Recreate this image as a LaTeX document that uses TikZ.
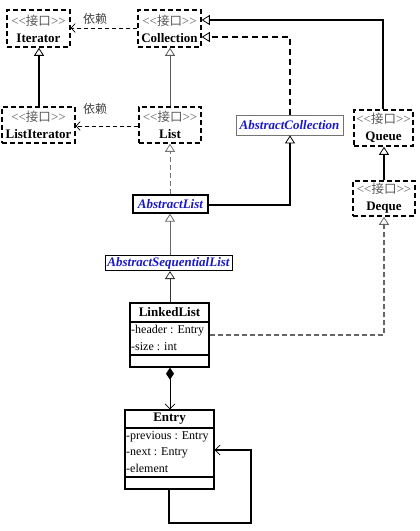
\documentclass[tikz,border=0pt]{standalone}
\usepackage{fontspec}
\setmainfont{Liberation Serif}
\newfontfamily\cjk{Noto Sans CJK SC}
\usetikzlibrary{arrows.meta}
\definecolor{umlblue}{RGB}{25,25,200}
\newcommand\ster{{\mdseries\color{black!65}\fontsize{13}{17}\selectfont<\kern0pt<{\cjk\fontsize{12.5}{17}\selectfont 接口}>\kern0pt>}}
\begin{document}
\begin{tikzpicture}[x=1pt,y=-1pt,
  iface/.style={draw, line width=1.5pt, dash pattern=on 5pt off 3pt, align=center, inner sep=0pt, font=\fontsize{13}{17}\selectfont\bfseries},
  absbox/.style={draw, align=center, inner sep=0pt, text=umlblue, font=\fontsize{13}{15}\selectfont\bfseries\itshape},
  clsbox/.style={draw, line width=1.3pt, inner sep=0pt},
  title/.style={font=\fontsize{13}{15}\selectfont\bfseries, inner sep=0pt},
  attr/.style={font=\fontsize{12}{14}\selectfont, anchor=west, inner sep=0pt},
  lbl/.style={font=\cjk\fontsize{12}{14}\selectfont, text=black!75, inner sep=0pt},
  inh/.style={-{Triangle[open,length=8pt,width=10pt,line width=0.8pt]}},
  dep/.style={dashed, dash pattern=on 4pt off 3pt, line width=0.8pt, -{Straight Barb[length=4pt,width=9pt,line width=0.7pt]}},
  sep/.style={line width=1.3pt}
]
\useasboundingbox (0,0) rectangle (420,531);

% interfaces
\node[iface, minimum width=63pt, minimum height=37pt] (Iterator) at (38.5,28.5) {\ster\\Iterator};
\node[iface, minimum width=63pt, minimum height=37pt] (Collection) at (169.5,28.5) {\ster\\Collection};
\node[iface, minimum width=73pt, minimum height=36pt] (ListIterator) at (38.5,125) {\ster\\ListIterator};
\node[iface, minimum width=62pt, minimum height=36pt] (List) at (170,125) {\ster\\List};
\node[iface, minimum width=59pt, minimum height=36pt] (Queue) at (383.5,128) {\ster\\Queue};
\node[iface, minimum width=62pt, minimum height=35pt] (Deque) at (384,198.5) {\ster\\Deque};

% abstract classes
\node[absbox, draw=black!55, line width=0.8pt, minimum width=107pt, minimum height=20pt] (AbsColl) at (289.5,125) {AbstractCollection};
\node[absbox, line width=1.2pt, minimum width=75pt, minimum height=18pt] (AbsList) at (170.5,204) {AbstractList};
\node[absbox, line width=1pt, minimum width=127pt, minimum height=15pt] (AbsSeq) at (168.5,263) {AbstractSequentialList};

% LinkedList
\node[clsbox, minimum width=79pt, minimum height=64pt] (LL) at (169.5,335) {};
\draw[sep] (LL.west |- 0,322) -- (LL.east |- 0,322);
\draw[sep] (LL.west |- 0,355) -- (LL.east |- 0,355);
\node[title] (LLt) at (169.5,312.5) {LinkedList};
\node[attr] (LLa) at (131,331) {-header : Entry};
\node[attr] (LLb) at (131,347) {-size : int};

% Entry
\node[clsbox, minimum width=89pt, minimum height=79pt] (Entry) at (169.5,449.5) {};
\draw[sep] (Entry.west |- 0,428) -- (Entry.east |- 0,428);
\draw[sep] (Entry.west |- 0,477) -- (Entry.east |- 0,477);
\node[title] (Et) at (169.5,419) {Entry};
\node[attr] (Ea) at (126,437) {-previous : Entry};
\node[attr] (Eb) at (126,453) {-next : Entry};
\node[attr] (Ec) at (126,468) {-element};

% dependencies
\draw[dep] (Collection.west |- 0,28) -- (Iterator.east |- 0,28);
\node[lbl] (dep1) at (95,19) {依赖};
\draw[dep] (List.west |- 0,126) -- (ListIterator.east |- 0,126);
\node[lbl] (dep2) at (95,109) {依赖};

% generalizations / realizations
\draw[inh, line width=1.3pt] (ListIterator.north -| 39,0) -- (Iterator.south -| 39,0);
\draw[inh, line width=0.8pt, black!65] (List.north -| 170,0) -- (Collection.south -| 170,0);
\draw[inh, line width=1.3pt] (Queue.north -| 383,0) -- (383,20) -- (Collection.east |- 0,20);
\draw[inh, line width=1.3pt, dash pattern=on 6pt off 4pt] (AbsColl.north -| 290,0) -- (290,37) -- (Collection.east |- 0,37);
\draw[inh, line width=0.8pt, black!55, dash pattern=on 5pt off 3pt] (AbsList.north -| 170,0) -- (List.south -| 170,0);
\draw[inh, line width=1.3pt] (AbsList.east |- 0,205) -- (290,205) -- (AbsColl.south -| 290,0);
\draw[inh, line width=1.5pt] (Deque.north -| 384,0) -- (Queue.south -| 384,0);
\draw[inh, line width=0.8pt, black!60] (AbsSeq.north -| 170,0) -- (AbsList.south -| 170,0);
\draw[inh, line width=0.8pt, black!80] (LL.north -| 170,0) -- (AbsSeq.south -| 170,0);
\draw[inh, line width=1.2pt, black!60, dash pattern=on 5pt off 3pt] (LL.east |- 0,335) -- (384,335) -- (Deque.south -| 384,0);

% composition
\draw[line width=1pt, {Diamond[length=12pt,width=8pt]}-{Straight Barb[length=5pt,width=10pt,line width=0.7pt]}] (LL.south -| 170,0) -- (Entry.north -| 170,0);

% self association
\draw[line width=1.2pt, -{Straight Barb[length=5pt,width=10pt,line width=0.7pt]}] (Entry.south -| 169,0) -- (169,523) -- (251,523) -- (251,450) -- (Entry.east |- 0,450);
\end{tikzpicture}
\end{document}
